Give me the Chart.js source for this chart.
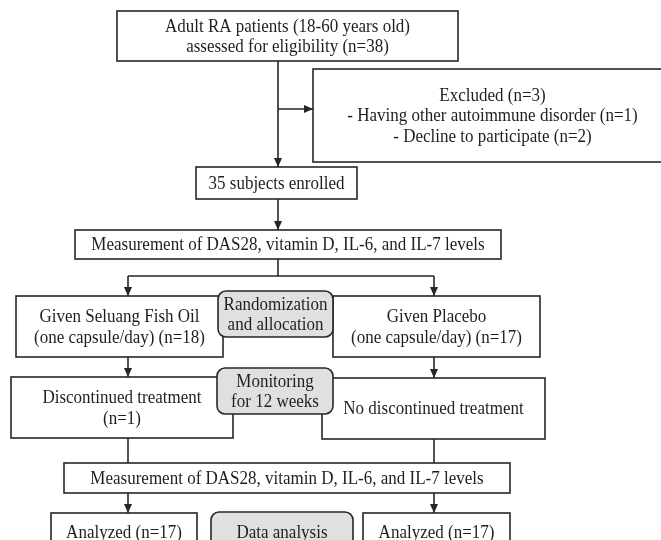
<!DOCTYPE html>
<html lang="en">
<head>
<meta charset="UTF-8">
<title>Study flow</title>
<script src="https://cdn.jsdelivr.net/npm/chart.js"></script>
<style>
  html, body { margin: 0; padding: 0; background: #fff; }
  #wrap { width: 661px; height: 540px; }
</style>
</head>
<body>
<div id="wrap"><canvas id="flow"></canvas></div>
<script>
// box texts, one entry per node
const nodeText = [
  ['Adult RA patients (18-60 years old)', 'assessed for eligibility (n=38)'],
  ['Excluded (n=3)', '- Having other autoimmune disorder (n=1)', '- Decline to participate (n=2)'],
  ['35 subjects enrolled'],
  ['Measurement of DAS28, vitamin D, IL-6, and IL-7 levels'],
  ['Given Seluang Fish Oil', '(one capsule/day) (n=18)'],
  ['Given Placebo', '(one capsule/day) (n=17)'],
  ['Discontinued treatment', '(n=1)'],
  ['No discontinued treatment'],
  ['Measurement of DAS28, vitamin D, IL-6, and IL-7 levels'],
  ['Analyzed (n=17)'],
  ['Analyzed (n=17)']
];
// grey step labels sitting between the two arms
const stepText = [
  ['Randomization', 'and allocation'],
  ['Monitoring', 'for 12 weeks'],
  ['Data analysis']
];

// layout in scale units: [left, top, right, bottom]
const nodeBox = [
  [117, 11, 458, 61],
  [313, 69, 672, 162],
  [196, 167, 357, 199],
  [75, 230, 501, 259],
  [16, 296, 223, 357],
  [333, 296, 540, 357],
  [11, 377, 233, 438],
  [322, 378, 545, 439],
  [64, 463, 510, 493],
  [51, 513, 197, 552],
  [363, 513, 510, 552]
];
const stepBox = [
  [218, 291, 333, 337],
  [217, 368, 333, 414],
  [211, 512, 353, 552]
];
// connectors: [x1, y1, x2, y2, arrow]
const links = [
  [278, 61, 278, 167, true],
  [278, 109, 313, 109, true],
  [278, 199, 278, 230, true],
  [278, 259, 278, 276, false],
  [128, 276, 434, 276, false],
  [128, 276, 128, 296, true],
  [434, 276, 434, 296, true],
  [128, 357, 128, 377, true],
  [434, 357, 434, 378, true],
  [128, 438, 128, 463, false],
  [434, 439, 434, 463, false],
  [128, 493, 128, 513, true],
  [434, 493, 434, 513, true]
];

const INK = '#262626';
const FONT = '17px "Liberation Serif", "DejaVu Serif", serif';
const LINE_H = 20.5;
const STRETCH = 1.1; // source glyphs look a little taller than Times

const flowPlugin = {
  id: 'flow',
  afterDraw(chart) {
    const ctx = chart.ctx;
    const sx = v => chart.scales.x.getPixelForValue(v);
    const sy = v => chart.scales.y.getPixelForValue(v);

    function drawLabel(lines, b) {
      ctx.fillStyle = '#1e1e1e';
      ctx.font = FONT;
      ctx.textAlign = 'center';
      ctx.textBaseline = 'middle';
      const cx = (sx(b[0]) + sx(b[2])) / 2;
      const cy = (sy(b[1]) + sy(b[3])) / 2 + 1;
      const y0 = cy - (lines.length - 1) * LINE_H / 2;
      lines.forEach((t, i) => {
        ctx.save();
        ctx.translate(cx, y0 + i * LINE_H);
        ctx.scale(1, STRETCH);
        ctx.fillText(t, 0, 0);
        ctx.restore();
      });
    }

    ctx.save();
    ctx.lineWidth = 1.6;
    ctx.strokeStyle = INK;

    // connectors
    links.forEach(l => {
      const x1 = sx(l[0]), y1 = sy(l[1]), x2 = sx(l[2]), y2 = sy(l[3]);
      ctx.beginPath();
      ctx.moveTo(x1, y1);
      ctx.lineTo(x2, y2);
      ctx.stroke();
      if (l[4]) {
        const a = Math.atan2(y2 - y1, x2 - x1);
        ctx.fillStyle = INK;
        ctx.beginPath();
        ctx.moveTo(x2, y2);
        ctx.lineTo(x2 - 9 * Math.cos(a) + 4 * Math.sin(a), y2 - 9 * Math.sin(a) - 4 * Math.cos(a));
        ctx.lineTo(x2 - 9 * Math.cos(a) - 4 * Math.sin(a), y2 - 9 * Math.sin(a) + 4 * Math.cos(a));
        ctx.closePath();
        ctx.fill();
      }
    });

    // white boxes
    nodeBox.forEach((b, i) => {
      const x = sx(b[0]), y = sy(b[1]), w = sx(b[2]) - x, h = sy(b[3]) - y;
      ctx.fillStyle = '#fff';
      ctx.fillRect(x, y, w, h);
      ctx.strokeRect(x, y, w, h);
      drawLabel(nodeText[i], b);
    });

    // grey rounded steps on top
    stepBox.forEach((b, i) => {
      const x = sx(b[0]), y = sy(b[1]), w = sx(b[2]) - x, h = sy(b[3]) - y;
      ctx.fillStyle = '#e0e0e0';
      ctx.beginPath();
      ctx.roundRect(x, y, w, h, 8);
      ctx.fill();
      ctx.stroke();
      drawLabel(stepText[i], b);
    });

    ctx.restore();
  }
};

new Chart(document.getElementById('flow'), {
  type: 'scatter',
  data: { datasets: [{ data: [], pointRadius: 0 }] },
  options: {
    responsive: true,
    maintainAspectRatio: false,
    animation: false,
    layout: { padding: 0 },
    plugins: { legend: { display: false }, tooltip: { enabled: false } },
    scales: {
      x: { type: 'linear', min: 0, max: 661, display: false },
      y: { type: 'linear', min: 0, max: 540, reverse: true, display: false }
    }
  },
  plugins: [flowPlugin]
});
</script>
</body>
</html>
